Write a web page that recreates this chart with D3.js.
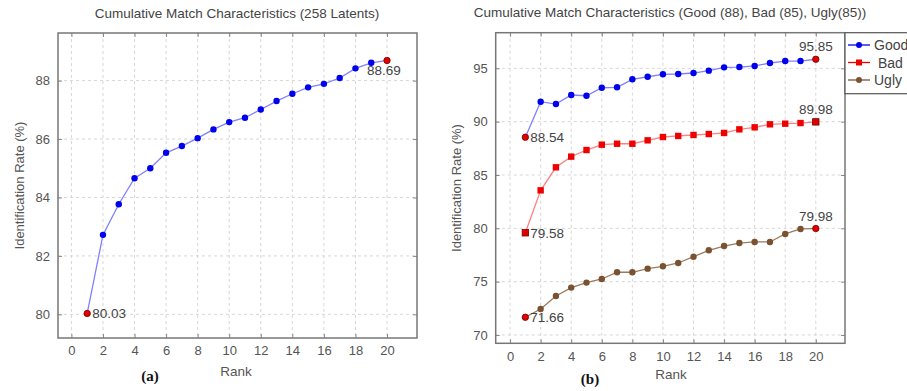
<!DOCTYPE html>
<html><head><meta charset="utf-8">
<script src="https://cdn.jsdelivr.net/npm/d3@7"></script>
<style>
body{margin:0;background:#fff;}
text{font-family:"Liberation Sans","DejaVu Sans",sans-serif;}
</style></head><body>
<svg id="c" width="907" height="391"></svg>
<script>
const ranks = d3.range(1, 21);
const latents = [80.03,82.72,83.77,84.66,85.00,85.53,85.76,86.03,86.33,86.58,86.73,87.01,87.30,87.55,87.77,87.89,88.09,88.42,88.61,88.69];
const good = [88.54,91.87,91.65,92.50,92.43,93.18,93.22,93.97,94.21,94.44,94.47,94.56,94.78,95.09,95.12,95.22,95.50,95.68,95.68,95.85];
const bad  = [79.58,83.56,85.72,86.72,87.34,87.84,87.93,87.93,88.25,88.56,88.66,88.75,88.84,88.94,89.28,89.47,89.75,89.81,89.87,89.98];
const ugly = [71.66,72.44,73.66,74.44,74.91,75.25,75.88,75.88,76.22,76.44,76.75,77.34,77.94,78.34,78.62,78.72,78.72,79.47,79.94,79.98];
const xTicks = [0,2,4,6,8,10,12,14,16,18,20];
const yTicksA = [80,82,84,86,88];
const yTicksB = [70,75,80,85,90,95];
const seriesNames = ["Good","Bad","Ugly"];

const svg = d3.select("#c");
const txt = "#555";

function panel(o){
  const x = d3.scaleLinear().domain(o.xd).range([o.x0,o.x1]);
  const y = d3.scaleLinear().domain(o.yd).range([o.y1,o.y0]);
  const g = svg.append("g");
  g.selectAll(null).data(xTicks).join("line")
    .attr("x1",d=>x(d)).attr("x2",d=>x(d)).attr("y1",o.y0).attr("y2",o.y1)
    .attr("stroke","#d6d6d6").attr("stroke-dasharray","3,3");
  g.selectAll(null).data(o.yt).join("line")
    .attr("y1",d=>y(d)).attr("y2",d=>y(d)).attr("x1",o.x0).attr("x2",o.x1)
    .attr("stroke","#d6d6d6").attr("stroke-dasharray","3,3");
  const ax = d3.axisBottom(x).tickValues(xTicks).tickSize(-4).tickPadding(8);
  const gx = g.append("g").attr("transform",`translate(0,${o.y1})`).call(ax);
  const ay = d3.axisLeft(y).tickValues(o.yt).tickSize(-4).tickPadding(8);
  const gy = g.append("g").attr("transform",`translate(${o.x0},0)`).call(ay);
  const ayr = d3.axisRight(y).tickValues(o.yt).tickSize(-4).tickFormat("");
  const gyr = g.append("g").attr("transform",`translate(${o.x1},0)`).call(ayr);
  const axt = d3.axisTop(x).tickValues(xTicks).tickSize(-4).tickFormat("");
  const gxt = g.append("g").attr("transform",`translate(0,${o.y0})`).call(axt);
  [gx,gy,gyr,gxt].forEach(a=>{
    a.select(".domain").remove();
    a.selectAll(".tick line").attr("stroke","#888");
    a.selectAll("text").attr("fill",txt).style("font-size","13px");
  });
  g.append("rect").attr("x",o.x0).attr("y",o.y0).attr("width",o.x1-o.x0).attr("height",o.y1-o.y0)
    .attr("fill","none").attr("stroke","#777").attr("stroke-width",1.5);
  g.append("text").attr("x",o.tx).attr("y",o.ty).attr("text-anchor","middle").attr("fill","#444")
    .style("font-size","13.5px").text(o.title);
  g.append("text").attr("transform",`translate(${o.ylx},${(o.y0+o.y1)/2}) rotate(-90)`)
    .attr("text-anchor","middle").attr("fill",txt).style("font-size","13px").text("Identification Rate (%)");
  g.append("text").attr("x",o.rx).attr("y",o.ry).attr("text-anchor","middle").attr("fill",txt)
    .style("font-size","13.5px").text("Rank");
  g.append("text").attr("x",o.px).attr("y",o.py).attr("text-anchor","middle").attr("fill","#111")
    .style("font-family","Liberation Serif,serif").style("font-weight","bold").style("font-size","15px").text(o.plabel);
  return {x,y,g};
}

function series(p, vals, line, fill, shape, labels){
  const data = vals.map((v,i)=>({r:ranks[i],v}));
  const ln = d3.line().x(d=>p.x(d.r)).y(d=>p.y(d.v));
  p.g.append("path").datum(data).attr("d",ln).attr("fill","none").attr("stroke",line).attr("stroke-width",1.3);
  const mark = (sel, f, stroke) => {
    if(shape==="sq"){
      sel.join("rect").attr("x",d=>p.x(d.r)-3.2).attr("y",d=>p.y(d.v)-3.2).attr("width",6.4).attr("height",6.4)
        .attr("fill",f).attr("stroke",stroke||"none").attr("stroke-width",0.8);
    } else {
      sel.join("circle").attr("cx",d=>p.x(d.r)).attr("cy",d=>p.y(d.v)).attr("r",3.2)
        .attr("fill",f).attr("stroke",stroke||"none").attr("stroke-width",0.8);
    }
  };
  mark(p.g.selectAll(null).data(data.slice(1,-1)), fill);
  const ends=[data[0],data[data.length-1]];
  mark(p.g.selectAll(null).data(ends), "#e00000", "#700");
  ends.forEach((d,i)=>{
    const L = labels[i];
    p.g.append("text").attr("x",p.x(d.r)+L[0]).attr("y",p.y(d.v)+L[1]).attr("text-anchor",L[2])
      .attr("fill","#444").style("font-size","13.5px").text(d.v.toFixed(2));
  });
}

const pA = panel({xd:[-0.85,21.9], yd:[79.19,89.63], x0:58, x1:417, y0:33, y1:338,
  yt:yTicksA, title:"Cumulative Match Characteristics (258 Latents)", tx:237, ty:18,
  ylx:24, rx:236, ry:376, px:150, py:381, plabel:"(a)"});
series(pA, latents, "#8080ff", "#0000ee", "c", [[5,5,"start"],[-20,15,"start"]]);

const pB = panel({xd:[-0.94,21.91], yd:[69.22,98.34], x0:495.7, x1:845, y0:32.7, y1:343.3,
  yt:yTicksB, title:"Cumulative Match Characteristics (Good (88), Bad (85), Ugly(85))", tx:670, ty:17,
  ylx:461, rx:671, ry:379, px:590, py:384, plabel:"(b)"});
series(pB, good, "#8080ff", "#0000ee", "c", [[5,5,"start"],[0,-8,"middle"]]);
series(pB, bad, "#ff8080", "#ee0000", "sq", [[5,5,"start"],[0,-8,"middle"]]);
series(pB, ugly, "#9c7a5c", "#7a5232", "c", [[5,5,"start"],[0,-8,"middle"]]);

const lg = svg.append("g");
lg.append("rect").attr("x",845).attr("y",32.7).attr("width",80).attr("height",61)
  .attr("fill","#fff").attr("stroke","#555").attr("stroke-width",1.2);
const lc = [["#0000ee","#0000ee","c"],["#ee0000","#ee0000","sq"],["#7a5232","#7a5232","c"]];
seriesNames.forEach((n,i)=>{
  const yy = 45 + i*17.5;
  lg.append("line").attr("x1",848).attr("x2",870).attr("y1",yy).attr("y2",yy).attr("stroke",lc[i][0]).attr("stroke-width",1.3);
  if(lc[i][2]==="sq") lg.append("rect").attr("x",856).attr("y",yy-3).attr("width",6).attr("height",6).attr("fill",lc[i][1]);
  else lg.append("circle").attr("cx",859).attr("cy",yy).attr("r",3).attr("fill",lc[i][1]);
  lg.append("text").attr("x",i===1?878:874).attr("y",yy+5).attr("fill","#444").style("font-size","14px").text(n);
});
</script></body></html>
